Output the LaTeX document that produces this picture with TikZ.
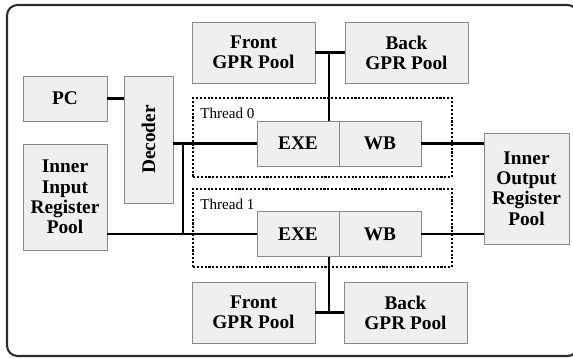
\documentclass[tikz,border=0pt]{standalone}
\usepackage{fontspec}
\setmainfont{Liberation Serif}
\usepackage{graphicx}
\usetikzlibrary{positioning, calc}
\definecolor{box_fill}{RGB}{239, 239, 239}
\definecolor{box_line}{RGB}{136, 136, 136}
\definecolor{frame_color}{RGB}{45, 45, 45}

\begin{document}
\begin{tikzpicture}[x=0.02cm, y=-0.02cm,
    font=\fontsize{11}{11.5}\selectfont\bfseries,
    box/.style={draw=box_line, fill=box_fill, line width=0.5pt, align=center, inner sep=0pt},
    pool/.style={box, minimum width=2.46cm, minimum height=1.22cm},
    stage/.style={box, minimum width=1.64cm, minimum height=0.9cm},
    regpool/.style={box, minimum width=1.68cm},
    thread/.style={draw, line width=1.2pt, densely dotted, minimum width=5.18cm, minimum height=1.57cm, inner sep=0pt},
    threadlabel/.style={anchor=base west, inner sep=0pt, font=\fontsize{8.6}{10}\selectfont},
    wire/.style={line width=1.2pt}]

      \useasboundingbox (0,0) rectangle (573,358);

      % 1. Marco exterior
      \draw[frame_color, line width=1.2pt, rounded corners=6pt] (7,5) rectangle (578,356);

      % 2. Hilos (cajas punteadas)
      \node[thread] (th0) at (322.5,137.5) {};
      \node[thread] (th1) at (322.5,228) {};
      \node[threadlabel] (lbl0) at (200,118) {Thread 0};
      \node[threadlabel] (lbl1) at (200,209) {Thread 1};

      % 3. Bloques
      % Entrada
      \node[regpool, minimum height=0.9cm] (pc) at (65,98.5) {PC};
      \node[regpool, minimum height=2.12cm] (inreg) at (65,197) {Inner\\Input\\Register\\Pool};
      \node[box, minimum width=0.98cm, minimum height=2.54cm] (dec) at (148.5,139.5) {\rotatebox{90}{Decoder}};

      % Hilo 0
      \node[stage] (exe0) at (298,143.5) {EXE};
      \node[stage] (wb0) at (380,143.5) {WB};
      \node[pool] (ftop) at (253.5,52.5) {Front\\GPR Pool};
      \node[pool] (btop) at (406.5,52.5) {Back\\GPR Pool};

      % Hilo 1
      \node[stage] (exe1) at (298,234) {EXE};
      \node[stage] (wb1) at (380,234) {WB};
      \node[pool] (fbot) at (253.5,312.5) {Front\\GPR Pool};
      \node[pool] (bbot) at (405.5,312.5) {Back\\GPR Pool};

      % Salida
      \node[box, minimum width=1.7cm, minimum height=2.22cm] (outreg) at (526.5,188.5) {Inner\\Output\\Register\\Pool};

      % 4. Conexiones
      \draw[wire] (pc.east) -- (pc.east -| dec.west);
      \draw[wire] (exe0.west) -- (exe0.west -| dec.east);
      \draw[wire] (exe1.west) -- (exe1.west -| inreg.east);
      \coordinate (split) at (183,143.5);
      \draw[wire] (split) -- (split |- exe1.west);

      \draw[wire] (ftop) -- (btop);
      \coordinate (gtop) at (329,52.5);
      \draw[wire] (gtop) -- (gtop |- exe0.north);
      \draw[wire] (fbot) -- (bbot);
      \coordinate (gbot) at (329,312.5);
      \draw[wire] (gbot) -- (gbot |- exe1.south);

      \draw[wire] (wb0.east) -- (wb0.east -| outreg.west);
      \draw[wire] (wb1.east) -- (wb1.east -| outreg.west);

\end{tikzpicture}
\end{document}
